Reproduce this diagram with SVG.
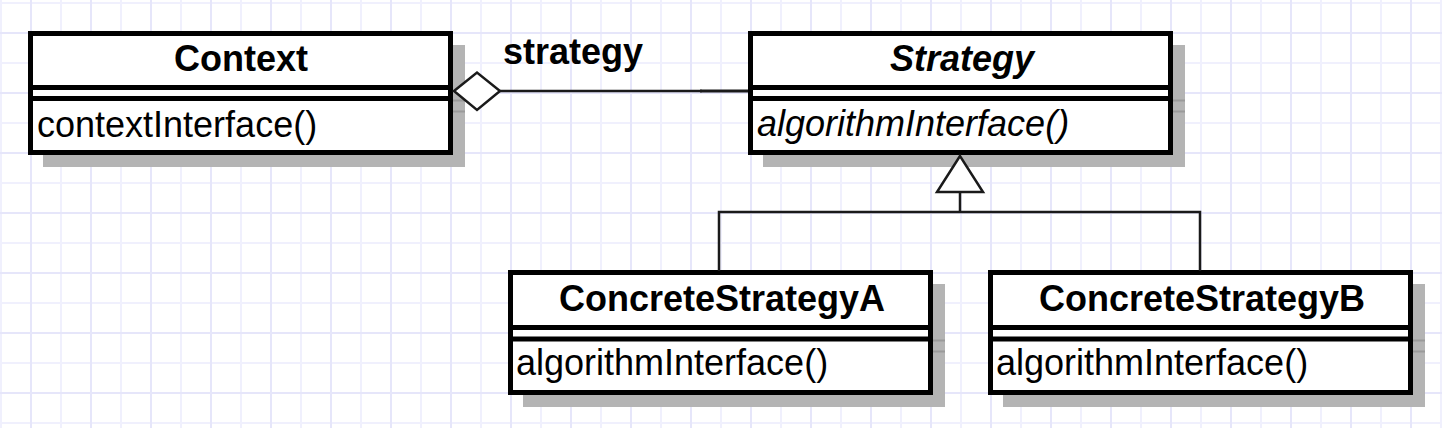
<svg xmlns="http://www.w3.org/2000/svg" width="1442" height="428" viewBox="0 0 1442 428">
<style>
.box{fill:#fff;stroke:#000;stroke-width:5}
.sep{stroke:#000;stroke-width:5}
.shadow{fill:#b4b4b4}
.shsep{stroke:#9a9a9a;stroke-width:2}
.hdr{font-family:"Liberation Sans",Arial,sans-serif;font-size:36px;font-weight:bold;text-anchor:middle;fill:#000}
.op{font-family:"Liberation Sans",Arial,sans-serif;font-size:36px;fill:#000}
.it{font-style:italic}
.ln{stroke:#1a1a1a;stroke-width:2.5;fill:none}
.lbl{font-family:"Liberation Sans",Arial,sans-serif;font-size:36px;font-weight:bold;fill:#000}
</style>
<defs>
<pattern id="grid" patternUnits="userSpaceOnUse" x="0" y="0" width="60" height="60">
<rect x="0" y="0" width="2" height="60" fill="#f0f0fd"/>
<rect x="0" y="2" width="60" height="2" fill="#f0f0fd"/>
<rect x="30" y="0" width="2" height="60" fill="#e6e6fa"/>
<rect x="0" y="32" width="60" height="2" fill="#e6e6fa"/>
</pattern>
</defs>
<rect x="0" y="0" width="1442" height="428" fill="#fff"/>
<rect x="0" y="0" width="1442" height="428" fill="url(#grid)"/>

<g id="Context">
<rect class="shadow" x="43" y="45" width="422" height="122"/>
<line class="shsep" x1="43" y1="100.5" x2="465" y2="100.5"/>
<line class="shsep" x1="43" y1="111.5" x2="465" y2="111.5"/>
<rect class="box" x="30.5" y="33.5" width="420" height="119"/>
<line class="sep" x1="28" y1="87.5" x2="453" y2="87.5"/>
<line class="sep" x1="28" y1="98.5" x2="453" y2="98.5"/>
<text class="hdr" x="241" y="70.5">Context</text>
<text class="op" x="37" y="137">contextInterface()</text>
</g>

<g id="Strategy">
<rect class="shadow" x="763" y="45" width="422" height="122"/>
<line class="shsep" x1="763" y1="100.5" x2="1185" y2="100.5"/>
<line class="shsep" x1="763" y1="111.5" x2="1185" y2="111.5"/>
<rect class="box" x="750.5" y="33.5" width="420" height="119"/>
<line class="sep" x1="748" y1="87.5" x2="1173" y2="87.5"/>
<line class="sep" x1="748" y1="98.5" x2="1173" y2="98.5"/>
<text class="hdr it" x="962" y="70.5">Strategy</text>
<text class="op it" x="757" y="136">algorithmInterface()</text>
</g>

<g id="ConcreteStrategyA">
<rect class="shadow" x="523" y="284" width="422" height="123"/>
<line class="shsep" x1="523" y1="340.5" x2="945" y2="340.5"/>
<line class="shsep" x1="523" y1="351.5" x2="945" y2="351.5"/>
<rect class="box" x="510.5" y="272.5" width="420" height="120"/>
<line class="sep" x1="508" y1="327.5" x2="933" y2="327.5"/>
<line class="sep" x1="508" y1="339" x2="933" y2="339"/>
<text class="hdr" x="722" y="310.5">ConcreteStrategyA</text>
<text class="op" x="516" y="375">algorithmInterface()</text>
</g>

<g id="ConcreteStrategyB">
<rect class="shadow" x="1003" y="284" width="422" height="123"/>
<line class="shsep" x1="1003" y1="340.5" x2="1425" y2="340.5"/>
<line class="shsep" x1="1003" y1="351.5" x2="1425" y2="351.5"/>
<rect class="box" x="990.5" y="272.5" width="420" height="120"/>
<line class="sep" x1="988" y1="327.5" x2="1413" y2="327.5"/>
<line class="sep" x1="988" y1="339" x2="1413" y2="339"/>
<text class="hdr" x="1202" y="310.5">ConcreteStrategyB</text>
<text class="op" x="996" y="375">algorithmInterface()</text>
</g>

<g id="connectors">
<line class="ln" x1="500" y1="91" x2="702" y2="91"/>
<line class="ln" x1="700" y1="91" x2="748" y2="91" style="stroke-width:3"/>
<polygon class="ln" points="454,91 477,72.5 500,91 477,110" style="fill:#fff"/>
<text class="lbl" x="503" y="64">strategy</text>
<polygon class="ln" points="960,156 937,192 983,192" style="fill:#fff"/>
<line class="ln" x1="960" y1="192" x2="960" y2="212"/>
<polyline class="ln" points="719,271 719,212 1200,212 1200,271"/>
</g>
</svg>
